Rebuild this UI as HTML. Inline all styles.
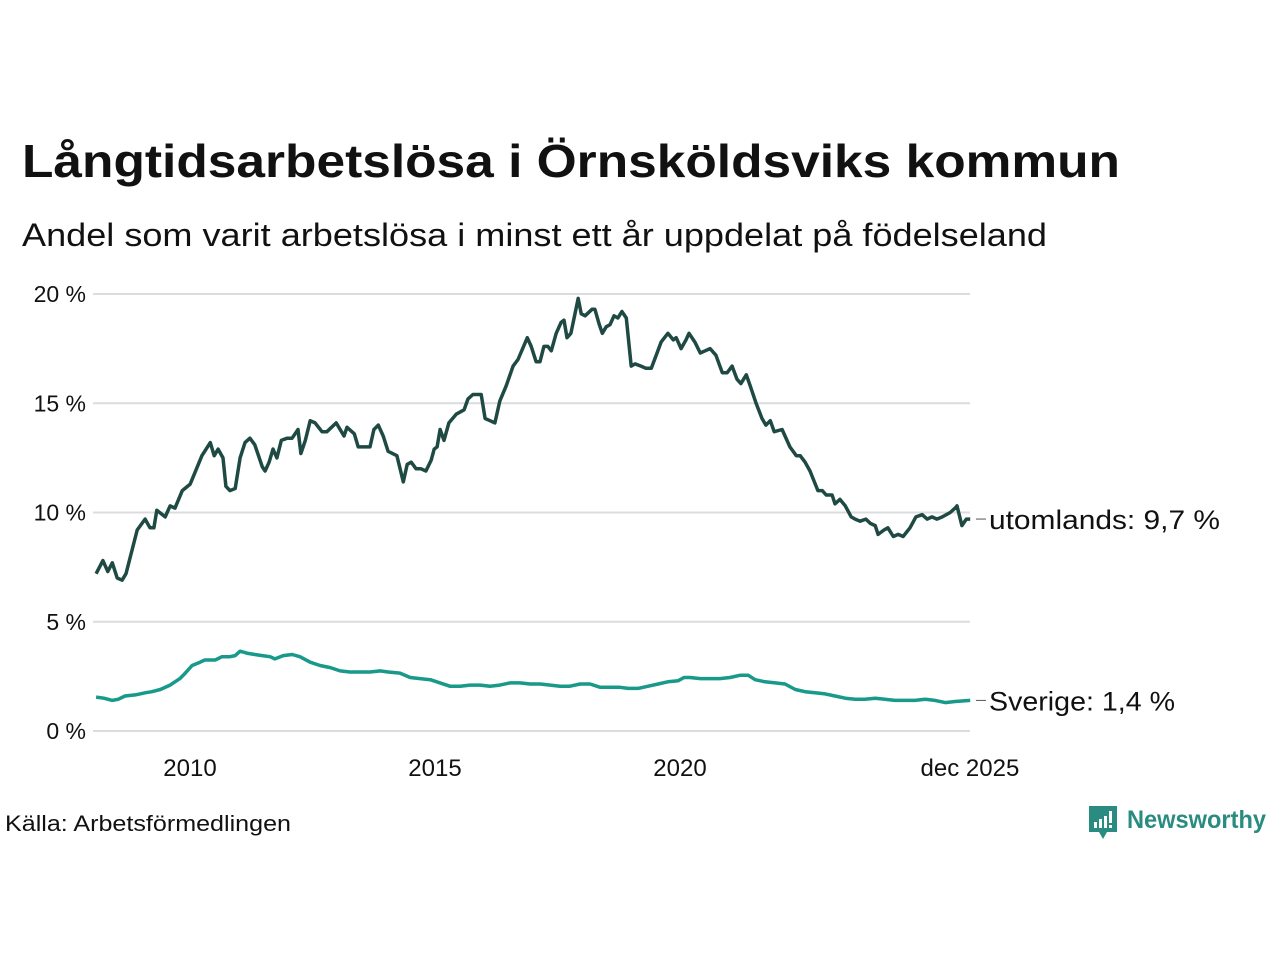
<!DOCTYPE html>
<html><head><meta charset="utf-8"><style>
body{margin:0;background:#fff;}
svg{display:block;font-family:"Liberation Sans",sans-serif;}
</style></head><body>
<svg id="chart" width="1280" height="960" viewBox="0 0 1280 960">
<text x="22" y="177" font-size="46" font-weight="bold" fill="#111" textLength="1098" lengthAdjust="spacingAndGlyphs">Långtidsarbetslösa i Örnsköldsviks kommun</text>
<text x="22" y="246" font-size="32" fill="#111" textLength="1025" lengthAdjust="spacingAndGlyphs">Andel som varit arbetslösa i minst ett år uppdelat på födelseland</text>
<g id="grid"></g><g id="series"></g><g id="labels"></g>
<text x="5" y="831" font-size="22" fill="#111" textLength="286" lengthAdjust="spacingAndGlyphs">Källa: Arbetsförmedlingen</text>
<g>
<path d="M1089 806 h28 v26 h-10 l-4 7 l-4 -7 h-10 z" fill="#2a8c80"/>
<rect x="1094" y="822" width="3" height="6" fill="#fff"/><rect x="1099" y="819" width="3" height="9" fill="#fff"/><rect x="1104" y="816" width="3" height="12" fill="#fff"/><rect x="1109" y="811" width="3" height="12" fill="#fff"/><rect x="1109" y="825" width="3" height="3" fill="#fff"/>
<text x="1127" y="828" font-size="25" font-weight="bold" fill="#2a8c80" textLength="139" lengthAdjust="spacingAndGlyphs">Newsworthy</text>
</g>
</svg>
<script>
const yTicks=[0,5,10,15,20];
const yTickLabels=["0 %","5 %","10 %","15 %","20 %"];
const xTicks=[2010,2015,2020,2025.917];
const xTickLabels=["2010","2015","2020","dec 2025"];
const utomYears=[2008.00,2008.14,2008.24,2008.33,2008.43,2008.53,2008.61,2008.84,2009.00,2009.10,
2009.18,2009.24,2009.41,2009.51,2009.61,2009.76,2009.92,2010.16,2010.33,2010.41,
2010.49,2010.59,2010.65,2010.73,2010.84,2010.94,2011.04,2011.14,2011.24,2011.39,
2011.45,2011.53,2011.61,2011.69,2011.78,2011.90,2012.00,2012.12,2012.18,2012.27,
2012.37,2012.47,2012.61,2012.71,2012.90,2013.06,2013.12,2013.27,2013.35,2013.45,
2013.59,2013.67,2013.76,2013.86,2013.96,2014.14,2014.27,2014.35,2014.43,2014.53,
2014.63,2014.73,2014.84,2014.90,2014.96,2015.02,2015.10,2015.20,2015.35,2015.51,
2015.59,2015.69,2015.86,2015.94,2016.04,2016.14,2016.24,2016.37,2016.51,2016.61,
2016.80,2016.88,2016.98,2017.06,2017.14,2017.22,2017.29,2017.39,2017.49,2017.55,
2017.61,2017.69,2017.84,2017.90,2017.98,2018.12,2018.18,2018.27,2018.33,2018.41,
2018.49,2018.57,2018.65,2018.73,2018.82,2018.92,2019.00,2019.12,2019.22,2019.33,
2019.43,2019.53,2019.67,2019.78,2019.84,2019.94,2020.04,2020.10,2020.22,2020.33,
2020.43,2020.53,2020.65,2020.78,2020.88,2020.98,2021.08,2021.16,2021.27,2021.35,
2021.47,2021.59,2021.67,2021.76,2021.84,2022.00,2022.16,2022.29,2022.37,2022.47,
2022.57,2022.73,2022.82,2022.90,2023.02,2023.08,2023.18,2023.29,2023.41,2023.49,
2023.59,2023.71,2023.80,2023.90,2023.96,2024.08,2024.16,2024.27,2024.37,2024.47,
2024.61,2024.73,2024.86,2024.96,2025.06,2025.16,2025.27,2025.43,2025.53,2025.57,
2025.67,2025.76,2025.84];
const utomValues=[7.2,7.8,7.3,7.7,7.0,6.9,7.2,9.2,9.7,9.3,
9.3,10.1,9.8,10.3,10.2,11.0,11.3,12.6,13.2,12.6,
12.9,12.5,11.2,11.0,11.1,12.5,13.2,13.4,13.1,12.1,
11.9,12.3,12.9,12.5,13.3,13.4,13.4,13.8,12.7,13.3,
14.2,14.1,13.7,13.7,14.1,13.5,13.9,13.6,13.0,13.0,
13.0,13.8,14.0,13.5,12.8,12.6,11.4,12.2,12.3,12.0,
12.0,11.9,12.4,12.9,13.0,13.8,13.3,14.1,14.5,14.7,
15.2,15.4,15.4,14.3,14.2,14.1,15.1,15.8,16.7,17.0,
18.0,17.6,16.9,16.9,17.6,17.6,17.4,18.2,18.7,18.8,
18.0,18.2,19.8,19.1,19.0,19.3,19.3,18.6,18.2,18.5,
18.6,19.0,18.9,19.2,18.9,16.7,16.8,16.7,16.6,16.6,
17.2,17.8,18.2,17.9,18.0,17.5,17.9,18.2,17.8,17.3,
17.4,17.5,17.2,16.4,16.4,16.7,16.1,15.9,16.3,15.8,
15.0,14.3,14.0,14.2,13.7,13.8,13.0,12.6,12.6,12.3,
11.9,11.0,11.0,10.8,10.8,10.4,10.6,10.3,9.8,9.7,
9.6,9.7,9.5,9.4,9.0,9.2,9.3,8.9,9.0,8.9,
9.3,9.8,9.9,9.7,9.8,9.7,9.8,10.0,10.2,10.3,
9.4,9.7,9.7];
const sveYears=[2008.00,2008.16,2008.33,2008.45,2008.59,2008.80,2009.00,2009.14,2009.31,2009.51,
2009.71,2009.82,2009.96,2010.12,2010.22,2010.43,2010.57,2010.73,2010.84,2010.94,
2011.10,2011.24,2011.39,2011.55,2011.65,2011.82,2012.00,2012.16,2012.37,2012.57,
2012.78,2012.98,2013.18,2013.39,2013.59,2013.80,2013.96,2014.20,2014.41,2014.61,
2014.82,2015.02,2015.22,2015.43,2015.63,2015.84,2016.04,2016.24,2016.45,2016.65,
2016.86,2017.06,2017.27,2017.47,2017.67,2017.88,2018.08,2018.29,2018.49,2018.69,
2018.86,2019.06,2019.27,2019.47,2019.67,2019.88,2020.00,2020.12,2020.33,2020.53,
2020.73,2020.94,2021.14,2021.31,2021.45,2021.65,2021.86,2022.06,2022.27,2022.47,
2022.67,2022.88,2023.08,2023.29,2023.49,2023.69,2023.90,2024.10,2024.31,2024.51,
2024.71,2024.92,2025.12,2025.33,2025.53,2025.84];
const sveValues=[1.55,1.5,1.4,1.45,1.6,1.65,1.75,1.8,1.9,2.1,
2.4,2.65,3.0,3.15,3.25,3.25,3.4,3.4,3.45,3.65,
3.55,3.5,3.45,3.4,3.3,3.45,3.5,3.4,3.15,3.0,
2.9,2.75,2.7,2.7,2.7,2.75,2.7,2.65,2.45,2.4,
2.35,2.2,2.05,2.05,2.1,2.1,2.05,2.1,2.2,2.2,
2.15,2.15,2.1,2.05,2.05,2.15,2.15,2.0,2.0,2.0,
1.95,1.95,2.05,2.15,2.25,2.3,2.45,2.45,2.4,2.4,
2.4,2.45,2.55,2.55,2.35,2.25,2.2,2.15,1.9,1.8,
1.75,1.7,1.6,1.5,1.45,1.45,1.5,1.45,1.4,1.4,
1.4,1.45,1.4,1.3,1.35,1.4];
const NS="http://www.w3.org/2000/svg";
const X0=93,X1=970;
function xs(y){return 190+(y-2010)*49;}
function xd(y){return xs(y+1/12);}
function ys(v){return 731-v*21.85;}
function mk(tag,attrs,parent){const e=document.createElementNS(NS,tag);for(const k in attrs)e.setAttribute(k,attrs[k]);parent.appendChild(e);return e;}
const grid=document.getElementById('grid');
yTicks.forEach((t,i)=>{
  const l=mk('line',{x1:X0,x2:X1,y1:ys(t),y2:ys(t),stroke:'#dcdce0','stroke-width':2},grid);
  
  
  const tx=mk('text',{x:86,y:ys(t)+8,'font-size':23,'text-anchor':'end',fill:'#111'},grid);
  tx.textContent=yTickLabels[i];
  
  
});
xTicks.forEach((t,i)=>{
  const tx=mk('text',{x:xs(t),y:776,'font-size':24,'text-anchor':'middle',fill:'#111'},grid);
  tx.textContent=xTickLabels[i];
  
  
});
const ser=document.getElementById('series');
function line(ys_,vs,color,name){
  const d=ys_.map((y,i)=>(i?'L':'M')+xd(y).toFixed(1)+' '+ys(vs[i]).toFixed(1)).join(' ');
  const p=mk('path',{d:d,fill:'none',stroke:color,'stroke-width':3.5,'stroke-linejoin':'round'},ser);
  
  
}
line(sveYears,sveValues,'#18998a','sverige-line');
line(utomYears,utomValues,'#1f4a44','utomlands-line');
const lab=document.getElementById('labels');
function endLabel(ys_,vs,text,name,len){
  const v=vs[vs.length-1];const yy=ys(v);
  mk('line',{x1:976,x2:986,y1:yy,y2:yy,stroke:'#555','stroke-width':1},lab);
  const tx=mk('text',{x:989,y:yy+10,'font-size':27,fill:'#111',textLength:len,lengthAdjust:'spacingAndGlyphs'},lab);
  tx.textContent=text;
  
  
}
endLabel(utomYears,utomValues,'utomlands: 9,7 %','utomlands-label',231);
endLabel(sveYears,sveValues,'Sverige: 1,4 %','sverige-label',186);
</script>
</body></html>
